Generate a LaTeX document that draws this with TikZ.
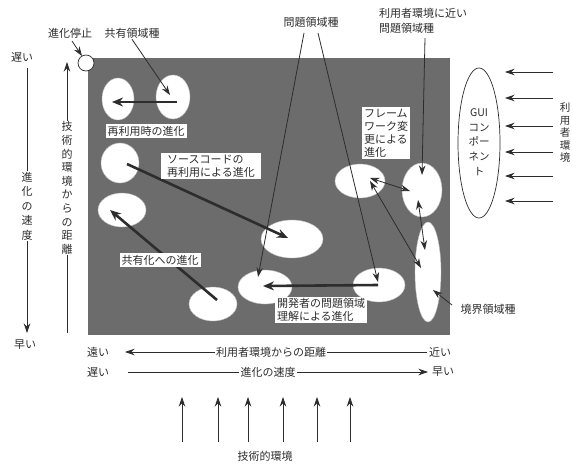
\documentclass[tikz,border=0pt]{standalone}
\usepackage{fontspec}
\setmainfont{Noto Sans CJK JP}
\usetikzlibrary{arrows.meta,shapes.geometric}
\definecolor{darkbg}{RGB}{108,108,108}
\definecolor{ink}{RGB}{45,45,45}
\begin{document}
\begin{tikzpicture}[x=1pt,y=-1pt,
  every node/.style={font=\fontsize{11}{13.5}\selectfont, text=ink, inner sep=1pt},
  box/.style={fill=white, inner xsep=2pt, inner ysep=1.5pt, align=left},
  ell/.style={ellipse, fill=white, draw=black!25, line width=0.4pt, inner sep=0pt},
  thin/.style={draw=ink, line width=0.8pt},
  thinar/.style={thin, -{Stealth[length=9.5pt,width=6.5pt]}},
  dblar/.style={thin, {Stealth[length=9.5pt,width=6.5pt]}-{Stealth[length=9.5pt,width=6.5pt]}},
  thickar/.style={draw=ink, line width=2.6pt, -{Stealth[length=11pt,width=9pt]}},
]
\useasboundingbox[fill=white] (0,0) rectangle (572,466);

% field
\node[fill=darkbg, minimum width=362pt, minimum height=277pt, inner sep=0pt, anchor=north west] (field) at (88,58) {};

% ellipses
\node[ell, minimum width=32pt, minimum height=42pt] (e1) at (118,99) {};
\node[ell, minimum width=34pt, minimum height=44pt] (e2) at (173,97) {};
\node[ell, minimum width=38pt, minimum height=40pt] (e3) at (120,163) {};
\node[ell, minimum width=48pt, minimum height=34pt] (e4) at (122,210) {};
\node[ell, minimum width=62pt, minimum height=38pt] (e5) at (292,239) {};
\node[ell, minimum width=48pt, minimum height=34pt] (e6) at (213,304) {};
\node[ell, minimum width=54pt, minimum height=34pt] (e7) at (265,287) {};
\node[ell, minimum width=52pt, minimum height=34pt] (e8) at (379,285) {};
\node[ell, minimum width=50pt, minimum height=34pt] (e9) at (360,181) {};
\node[ell, minimum width=40pt, minimum height=54pt] (e10) at (422,190) {};
\node[ell, minimum width=26pt, minimum height=100pt] (e11) at (428,272) {};
\node[circle, fill=white, draw=ink, line width=0.7pt, minimum size=16pt, inner sep=0pt] (stop) at (86,63) {};
\node[ellipse, draw=ink, line width=0.7pt, minimum width=42pt, minimum height=150pt, inner sep=0pt] (gui) at (479,143) {};

% coordinates for connector ends
\coordinate (e2s) at (177,102); \coordinate (e1t) at (112,102);
\coordinate (e3s) at (127,164); \coordinate (e5t) at (288,238);
\coordinate (e6s) at (217,300); \coordinate (e4t) at (110,210);
\coordinate (e8s) at (378,285); \coordinate (e7t) at (263,286);
\coordinate (stopt) at (82,56);  \coordinate (e2t) at (170,95);
\coordinate (pA) at (304,33); \coordinate (pB) at (318,33);
\coordinate (e7p) at (258,277); \coordinate (e8p) at (378,282);
\coordinate (nearS) at (425,38); \coordinate (e10t) at (422,175);
\coordinate (e9a) at (370,178); \coordinate (e10a) at (410,191);
\coordinate (e9b) at (370,181); \coordinate (e11b) at (421,268);
\coordinate (e10c) at (418,200); \coordinate (e11c) at (425,250);
\coordinate (bndS) at (452,305); \coordinate (e11d) at (433,290);

% thick evolution arrows
\draw[thickar] (e2s) -- (e1t);
\draw[thickar] (e3s) -- (e5t);
\draw[thickar] (e6s) -- (e4t);
\draw[thickar] (e8s) -- (e7t);

% top labels
\node (lStop) at (70,33) {進化停止};
\node (lShared) at (132,33) {共有領域種};
\node (lProb) at (311,22) {問題領域種};
\node[align=left, anchor=west, font=\fontsize{11}{15}\selectfont] (lNear) at (378,21) {利用者環境に近い\\問題領域種};
\node (lBound) at (488,309) {境界領域種};

% thin connectors
\coordinate (stopS) at (72,41);
\draw[thinar] (stopS) -- (stopt);
\draw[thinar] (lShared.south) -- (e2t);
\draw[thinar] (pA) -- (e7p);
\draw[thinar] (pB) -- (e8p);
\draw[thinar] (nearS) -- (e10t);
\draw[dblar] (e9a) -- (e10a);
\draw[dblar] (e9b) -- (e11b);
\draw[dblar] (e10c) -- (e11c);
\draw[thinar] (bndS) -- (e11d);

% boxes
\node[box] (bReuse) at (146,131) {再利用時の進化};
\node[box, inner xsep=6pt] (bSrc) at (211,166) {ソースコードの\\再利用による進化};
\node[box] (bShare) at (160,260) {共有化への進化};
\node[box, font=\fontsize{11}{13}\selectfont] (bFw) at (386,133) {フレーム\\ワーク変\\更による\\進化};
\node[box, font=\fontsize{11}{12.5}\selectfont] (bDev) at (321,310) {開発者の問題領域\\理解による進化};

% GUI
\node[align=center, font=\fontsize{10.5}{14.7}\selectfont] (guiT) at (479,142) {GUI\\コン\\ポー\\ネン\\ト};

% user-side arrows
\foreach \y [count=\i] in {72,98,126,152,176,201} {
  \coordinate (ra\i) at (553,\y); \coordinate (rb\i) at (505,\y);
  \draw[thinar] (ra\i) -- (rb\i);
}
\node[align=center, font=\fontsize{10.5}{12.5}\selectfont] (lUser) at (565,133) {利\\用\\者\\環\\境};

% left axes
\node (slowTop) at (22,57) {遅い};
\node[align=center, font=\fontsize{11}{14.5}\selectfont] (vSpeed) at (27,206) {進\\化\\の\\速\\度};
\node (fastL) at (25,345) {早い};
\coordinate (vsTop) at (27,68); \coordinate (vsBot) at (27,333);
\draw[thin] (vsTop) -- (vSpeed.north);
\draw[thinar] (vSpeed.south) -- (vsBot);

\node[align=center, font=\fontsize{11}{13.6}\selectfont] (vTech) at (67,188) {技\\術\\的\\環\\境\\か\\ら\\の\\距\\離};
\coordinate (vtTop) at (67,62); \coordinate (vtBot) at (67,333);
\draw[thinar] (vTech.north) -- (vtTop);
\draw[thin] (vTech.south) -- (vtBot);

% bottom axes
\node (far) at (98,352) {遠い};
\node (dUser) at (271,352) {利用者環境からの距離};
\node (near) at (440,352) {近い};
\coordinate (farTip) at (125,352); \coordinate (nearEnd) at (427,352);
\draw[thinar] (dUser.west) -- (farTip);
\draw[thin] (dUser.east) -- (nearEnd);

\node (slowB) at (98,372) {遅い};
\node (sB) at (268,372) {進化の速度};
\node (fastB) at (443,372) {早い};
\coordinate (slowStart) at (128,372); \coordinate (fastTip) at (428,372);
\draw[thin] (slowStart) -- (sB.west);
\draw[thinar] (sB.east) -- (fastTip);

% technical environment arrows
\foreach \x [count=\i] in {182,218,248,283,317,350} {
  \coordinate (ub\i) at (\x,442); \coordinate (ut\i) at (\x,397);
  \draw[thinar] (ub\i) -- (ut\i);
}
\node (lTechEnv) at (265,456) {技術的環境};
\end{tikzpicture}
\end{document}
